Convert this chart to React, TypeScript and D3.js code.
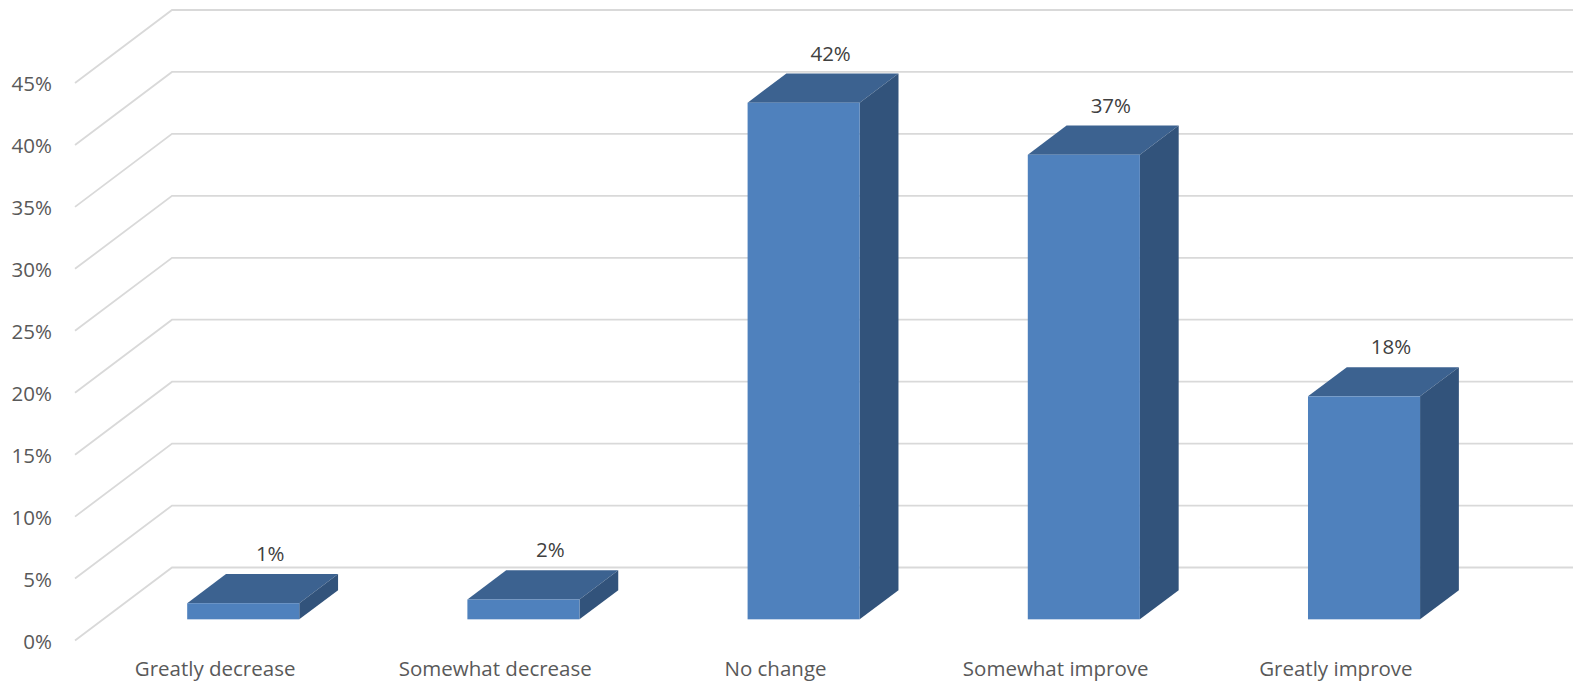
import React from "react";
import * as d3 from "d3";

const categories = ["Greatly decrease", "Somewhat decrease", "No change", "Somewhat improve", "Greatly improve"];
const shares = [1.3, 1.6, 41.7, 37.5, 18.0];
const valueLabels = ["1%", "2%", "42%", "37%", "18%"];
const yTicks = [0, 5, 10, 15, 20, 25, 30, 35, 40, 45];

const width = 1573;
const height = 684;

// back wall of the 3d box, and how far the front edge is pushed
const back = { left: 172, right: 1573, top: 10, bottom: 567.5 };
const depth = { dx: -97, dy: 73 };
const barFront = 0.71;
const barBack = 0.31;

function App() {
  const x = d3.scaleBand<string>().domain(categories).range([back.left, back.right]);
  const y = d3.scaleLinear().domain([0, 45]).range([back.bottom, back.top]);

  // move a back-wall point forward by fraction t of the depth
  const proj = (px: number, py: number, t: number): [number, number] => [px + depth.dx * t, py + depth.dy * t];
  const barW = x.bandwidth() * 0.4;

  return (
    <svg width={width} height={height} style={{ position: "absolute", left: 0, top: 0, background: "#fff" }}
      fontFamily="'Open Sans', sans-serif">
      {/* gridlines: back wall + side wall */}
      {yTicks.map((t) => {
        const [fx, fy] = proj(back.left, y(t), 1);
        return (
          <g key={t}>
            <polyline points={`${fx},${fy} ${back.left},${y(t)} ${back.right},${y(t)}`}
              fill="none" stroke="#d9d9d9" strokeWidth={1.8} />
            <text x={52} y={fy} textAnchor="end" dominantBaseline="central" fontSize={20.5} fill="#595959">
              {t}%
            </text>
          </g>
        );
      })}

      {categories.map((c, i) => {
        const cx = (x(c) as number) + x.bandwidth() / 2;
        const x0 = cx - barW / 2;
        const x1 = cx + barW / 2;
        const yb = y(0);
        const yt = y(shares[i]);
        const line = d3.line();
        const [fx0, fyt] = proj(x0, yt, barFront);
        const [fx1, fyb] = proj(x1, yb, barFront);
        const [bx0, byt] = proj(x0, yt, barBack);
        const [bx1, byb] = proj(x1, yb, barBack);
        const top = line([[fx0, fyt], [fx1, fyt], [bx1, byt], [bx0, byt]]) + "Z";
        const side = line([[fx1, fyt], [bx1, byt], [bx1, byb], [fx1, fyb]]) + "Z";
        const [lx] = proj(cx, yb, 1);
        return (
          <g key={c}>
            <path d={top} fill="#3c6290" />
            <path d={side} fill="#32537b" />
            <rect x={fx0} y={fyt} width={fx1 - fx0} height={fyb - fyt} fill="#4f81bd" />
            <text x={(fx0 + fx1) / 2 + 27} y={byt - 21} textAnchor="middle" dominantBaseline="central"
              fontSize={20.5} fill="#404040">
              {valueLabels[i]}
            </text>
            <text x={lx} y={668} textAnchor="middle" dominantBaseline="central" fontSize={20.5} fill="#595959">
              {c}
            </text>
          </g>
        );
      })}
    </svg>
  );
}

export default App;
